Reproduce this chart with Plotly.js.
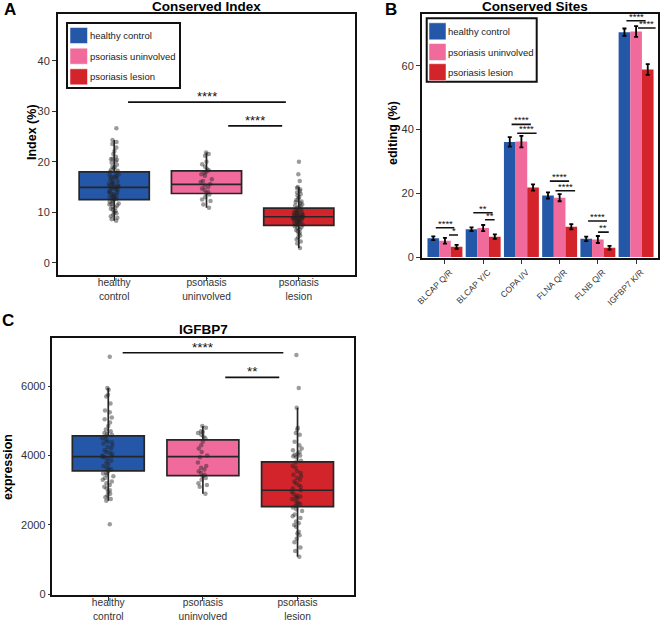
<!DOCTYPE html>
<html><head><meta charset="utf-8">
<script src="https://cdn.plot.ly/plotly-3.0.1.min.js"></script>
<style>html,body{margin:0;padding:0;background:#fff}#chart{width:660px;height:622px}</style>
</head><body><div id="chart"></div>
<script>
// ---------- shared ----------
const groups = ['healthy control', 'psoriasis uninvolved', 'psoriasis lesion'];
const groupTicks = ['healthy<br>control', 'psoriasis<br>uninvolved', 'psoriasis<br>lesion'];
const groupColors = ['#2457a8', '#f06b9b', '#d3232b'];

// ---------- Panel A: Conserved Index (%) ----------
const idxQ1 = [12.5, 13.7, 7.4];
const idxMedian = [14.9, 15.5, 9.1];
const idxQ3 = [18.0, 18.2, 10.8];
const idxLowerWhisker = [8.3, 10.9, 2.9];
const idxUpperWhisker = [24.3, 21.8, 15.0];
const idxHealthy = [26.6, 24.3, 23.9, 23.5, 22.8, 22.1, 21.5, 21.0, 20.6, 20.4, 20.1, 19.8, 19.4, 19.0, 18.7,
  18.4, 18.2, 18.0, 17.8, 17.5, 17.3, 17.0, 16.8, 16.5, 16.3, 16.1, 15.9, 15.7, 15.5, 15.3, 15.1, 15.0, 14.9,
  14.8, 14.6, 14.4, 14.2, 14.0, 13.8, 13.6, 13.4, 13.2, 13.0, 12.8, 12.6, 12.5, 12.3, 12.1, 11.9, 11.7, 11.5,
  11.3, 11.1, 10.9, 10.7, 10.5, 10.2, 10.0, 9.8, 9.5, 9.2, 8.9, 8.6, 8.3, 16.9, 15.2, 13.9, 12.9, 14.7, 17.1,
  11.6, 20.5, 18.9, 15.6, 13.3];
const idxUninvolved = [21.8, 21.5, 21.2, 20.0, 19.5, 19.0, 18.5, 18.0, 17.8, 17.5, 17.2, 16.5, 16.0, 15.6,
  15.3, 15.0, 14.7, 14.4, 14.0, 13.8, 13.5, 13.0, 12.5, 12.2, 11.5, 10.9, 16.2, 18.3];
const idxLesion = [20.0, 17.5, 16.2, 15.0, 14.8, 14.5, 14.2, 13.9, 13.6, 13.3, 13.0, 12.7, 12.4, 12.1, 11.8,
  11.5, 11.3, 11.0, 10.8, 10.6, 10.4, 10.2, 10.0, 9.9, 9.8, 9.6, 9.5, 9.4, 9.3, 9.2, 9.1, 9.0, 8.9, 8.8, 8.7,
  8.6, 8.5, 8.4, 8.3, 8.2, 8.0, 7.9, 7.8, 7.6, 7.5, 7.4, 7.2, 7.0, 6.8, 6.6, 6.4, 6.2, 6.0, 5.7, 5.4, 5.0,
  4.6, 4.2, 3.8, 2.9, 9.7, 8.9, 9.3, 10.1, 8.1, 7.7, 11.2, 12.0, 9.0, 8.6];
const sigAFrom = [0.15, 1.235];
const sigATo = [1.86, 1.82];
const sigAY = [31.8, 27.1];
const sigALabel = ['****', '****'];

// ---------- Panel B: Conserved Sites editing (%) ----------
const sites = ['BLCAP Q/R', 'BLCAP Y/C', 'COPA I/V', 'FLNA Q/R', 'FLNB Q/R', 'IGFBP7 K/R'];
const editHealthy = [5.9, 8.7, 36.1, 19.3, 5.7, 70.5];
const editUninvolved = [5.1, 9.1, 36.2, 18.6, 5.5, 70.7];
const editLesion = [3.2, 6.4, 21.8, 9.5, 2.9, 58.8];
const errHealthy = [0.6, 0.6, 1.5, 0.95, 0.7, 1.15];
const errUninvolved = [0.9, 0.95, 1.8, 1.1, 1.1, 1.7];
const errLesion = [0.6, 0.7, 1.0, 0.8, 0.6, 1.7];
const sigBFrom = [-0.24, 0.107, 0.742, 1.047, 1.744, 1.89, 2.744, 2.89, 3.744, 4.005, 4.747, 5.05];
const sigBTo = [0.245, 0.342, 1.248, 1.3, 2.248, 2.397, 3.248, 3.405, 4.24, 4.285, 5.25, 5.51];
const sigBY = [9.2, 6.9, 13.9, 11.7, 41.6, 38.8, 23.8, 20.8, 11.3, 7.8, 74.1, 71.8];
const sigBLabel = ['****', '*', '**', '**', '****', '****', '****', '****', '****', '**', '****', '****'];

// ---------- Panel C: IGFBP7 expression ----------
const exQ1 = [3560, 3420, 2530];
const exMedian = [3970, 3970, 3000];
const exQ3 = [4570, 4450, 3820];
const exLowerWhisker = [2700, 2900, 1080];
const exUpperWhisker = [5950, 4850, 5380];
const exHealthy = [6850, 5950, 5900, 5750, 5700, 5500, 5300, 5250, 5100, 5050, 4950, 4850, 4750, 4700, 4650,
  4600, 4550, 4500, 4450, 4400, 4350, 4300, 4250, 4200, 4150, 4100, 4050, 4000, 3980, 3950, 3900, 3850, 3800,
  3750, 3700, 3650, 3600, 3550, 3500, 3450, 3400, 3350, 3300, 3250, 3200, 3150, 3100, 3050, 3000, 2950, 2900,
  2850, 2800, 2750, 2700, 2020, 4620, 4080, 3620, 3970, 4380, 3480];
const exUninvolved = [4850, 4800, 4700, 4650, 4600, 4550, 4500, 4400, 4300, 4200, 4100, 4000, 3950, 3800,
  3700, 3650, 3600, 3500, 3450, 3400, 3350, 3300, 3200, 3150, 3100, 2900, 4680, 3550];
const exLesion = [6900, 5950, 5380, 4800, 4750, 4650, 4600, 4400, 4300, 4200, 4150, 4100, 4050, 4000, 3950,
  3850, 3800, 3700, 3650, 3550, 3500, 3450, 3400, 3300, 3250, 3200, 3150, 3100, 3050, 3000, 2950, 2900, 2850,
  2800, 2750, 2700, 2650, 2600, 2550, 2500, 2450, 2400, 2300, 2250, 2200, 2100, 2050, 2000, 1950, 1800, 1750,
  1700, 1600, 1500, 1350, 1250, 1080, 2820, 2780, 3980, 4020, 3350, 2600];
const sigCFrom = [0.152, 1.236];
const sigCTo = [1.85, 1.807];
const sigCY = [6962, 6253];
const sigCLabel = ['****', '**'];

// ---------- build ----------
const FONT = 'Liberation Sans, Arial, Helvetica, sans-serif';
const W = 660, H = 622;
const px = v => v / W;
const py = v => 1 - v / H;
const data = [];

function addBoxPanel(q1, med, q3, lo, hi, samples, xa, ya) {
  for (let i = 0; i < 3; i++) {
    data.push({
      type: 'box', x: [i], q1: [q1[i]], median: [med[i]], q3: [q3[i]],
      lowerfence: [lo[i]], upperfence: [hi[i]],
      name: groups[i], fillcolor: groupColors[i],
      line: {color: '#262626', width: 1.7}, whiskerwidth: 0, width: 0.76,
      boxpoints: false, xaxis: xa, yaxis: ya, showlegend: false
    });
  }
  for (let i = 0; i < 3; i++) {
    data.push({
      type: 'box', y: samples[i], x0: i, name: groups[i],
      boxpoints: 'all', jitter: 0.18, pointpos: 0, width: 0.76,
      fillcolor: 'rgba(0,0,0,0)', line: {color: 'rgba(0,0,0,0)', width: 0},
      marker: {color: 'rgba(35,35,35,0.45)', size: 4.5},
      xaxis: xa, yaxis: ya, showlegend: false
    });
  }
}

addBoxPanel(idxQ1, idxMedian, idxQ3, idxLowerWhisker, idxUpperWhisker,
  [idxHealthy, idxUninvolved, idxLesion], 'x', 'y');
addBoxPanel(exQ1, exMedian, exQ3, exLowerWhisker, exUpperWhisker,
  [exHealthy, exUninvolved, exLesion], 'x3', 'y3');

const editVals = [editHealthy, editUninvolved, editLesion];
const editErr = [errHealthy, errUninvolved, errLesion];
for (let g = 0; g < 3; g++) {
  data.push({
    type: 'bar', x: sites.map((s, i) => i), y: editVals[g], name: groups[g],
    marker: {color: groupColors[g], line: {width: 0}},
    error_y: {type: 'data', array: editErr[g], visible: true, color: '#000', thickness: 1.8, width: 2},
    xaxis: 'x2', yaxis: 'y2', showlegend: false
  });
}

const shapes = [];
const annotations = [];
function addSig(from, to, ys, labels, xr, yr, fsize, shift) {
  for (let i = 0; i < from.length; i++) {
    shapes.push({type: 'line', xref: xr, yref: yr, x0: from[i], x1: to[i], y0: ys[i], y1: ys[i],
      line: {color: '#111', width: 1.6}});
    annotations.push({xref: xr, yref: yr, x: (from[i] + to[i]) / 2, y: ys[i], text: labels[i],
      showarrow: false, yanchor: 'bottom', yshift: shift, font: {family: FONT, size: fsize, color: '#111'}});
  }
}
addSig(sigAFrom, sigATo, sigAY, sigALabel, 'x', 'y', 13, -4);
addSig(sigBFrom, sigBTo, sigBY, sigBLabel, 'x2', 'y2', 9.5, -3);
addSig(sigCFrom, sigCTo, sigCY, sigCLabel, 'x3', 'y3', 13.5, -4);

function txt(x, y, text, size, bold, angle) {
  annotations.push({xref: 'paper', yref: 'paper', x: px(x), y: py(y), text: text,
    showarrow: false, xanchor: 'center', yanchor: 'middle', textangle: angle || 0,
    font: {family: FONT, size: size, color: '#000', weight: bold ? 700 : 400}});
}
txt(10, 10, 'A', 17, true);
txt(391, 10, 'B', 17, true);
txt(8, 321, 'C', 17, true);
txt(206.5, 6, 'Conserved Index', 13.5, true);
txt(535, 6, 'Conserved Sites', 13.5, true);
txt(203, 329, 'IGFBP7', 13.5, true);
// axis titles
txt(32, 132, 'Index (%)', 12.5, true, -90);
txt(393, 133, 'editing (%)', 12.5, true, -90);
txt(8, 467, 'expression', 12.5, true, -90);

// legends (drawn as swatches + labels)
function addLegend(x0, y0, x1, y1, swX0, swX1, rowCenters, swH, textX) {
  shapes.push({type: 'rect', xref: 'paper', yref: 'paper', x0: px(x0), x1: px(x1), y0: py(y0), y1: py(y1),
    fillcolor: '#fff', line: {color: '#111', width: 2}, layer: 'above'});
  for (let i = 0; i < groups.length; i++) {
    shapes.push({type: 'rect', xref: 'paper', yref: 'paper', x0: px(swX0), x1: px(swX1),
      y0: py(rowCenters[i] - swH / 2), y1: py(rowCenters[i] + swH / 2),
      fillcolor: groupColors[i], line: {color: '#fff', width: 0.5}, layer: 'above'});
    annotations.push({xref: 'paper', yref: 'paper', x: px(textX), y: py(rowCenters[i]), text: groups[i],
      showarrow: false, xanchor: 'left', yanchor: 'middle',
      font: {family: FONT, size: 9.5, color: '#222'}});
  }
}
addLegend(67, 23, 180, 88, 70, 87.5, [35.5, 56.2, 76.8], 16, 87.5);
addLegend(426.7, 18.3, 536.7, 81.7, 429, 446, [31.3, 52, 72.2], 17, 446);

const tickFont = {family: FONT, size: 11, color: '#333'};
const frame = {showline: true, mirror: true, linecolor: '#111', linewidth: 2, ticks: 'outside',
  ticklen: 4, tickwidth: 1, tickcolor: '#333', showgrid: false, zeroline: false, tickfont: tickFont,
  fixedrange: true};
const catTickFont = {family: FONT, size: 10.2, color: '#333'};

const layout = {
  width: W, height: H, margin: {l: 0, r: 0, t: 0, b: 0},
  paper_bgcolor: '#fff', plot_bgcolor: '#fff', showlegend: false,
  font: {family: FONT, color: '#222'},
  barmode: 'group', bargap: 0.086, bargroupgap: 0, boxmode: 'overlay',
  xaxis: Object.assign({}, frame, {domain: [px(58), px(355)], range: [-0.609, 2.609],
    tickmode: 'array', tickvals: [0, 1, 2], ticktext: groupTicks, anchor: 'y',
    tickfont: catTickFont, ticklabelstandoff: -7}),
  yaxis: Object.assign({}, frame, {domain: [py(275), py(14.3)], range: [-2.44, 49.19],
    tickmode: 'array', tickvals: [0, 10, 20, 30, 40], anchor: 'x'}),
  xaxis2: Object.assign({}, frame, {domain: [px(422), px(657.5)], range: [-0.6, 5.56],
    tickmode: 'array', tickvals: sites.map((s, i) => i), ticktext: sites, tickangle: -45,
    tickfont: {family: FONT, size: 8.5, color: '#333'}, anchor: 'y2', ticklabelshift: 5}),
  yaxis2: Object.assign({}, frame, {domain: [py(258), py(14)], range: [-0.3, 76.2],
    tickmode: 'array', tickvals: [0, 20, 40, 60], anchor: 'x2'}),
  xaxis3: Object.assign({}, frame, {domain: [px(51.7), px(354.3)], range: [-0.598, 2.6],
    tickmode: 'array', tickvals: [0, 1, 2], ticktext: groupTicks, anchor: 'y3',
    tickfont: catTickFont, ticklabelstandoff: -7}),
  yaxis3: Object.assign({}, frame, {domain: [py(595), py(338.3)], range: [-20, 7380],
    tickmode: 'array', tickvals: [0, 2000, 4000, 6000], anchor: 'x3', ticklen: 2}),
  shapes: shapes, annotations: annotations
};

Plotly.newPlot('chart', data, layout, {staticPlot: true, displayModeBar: false});
</script></body></html>
